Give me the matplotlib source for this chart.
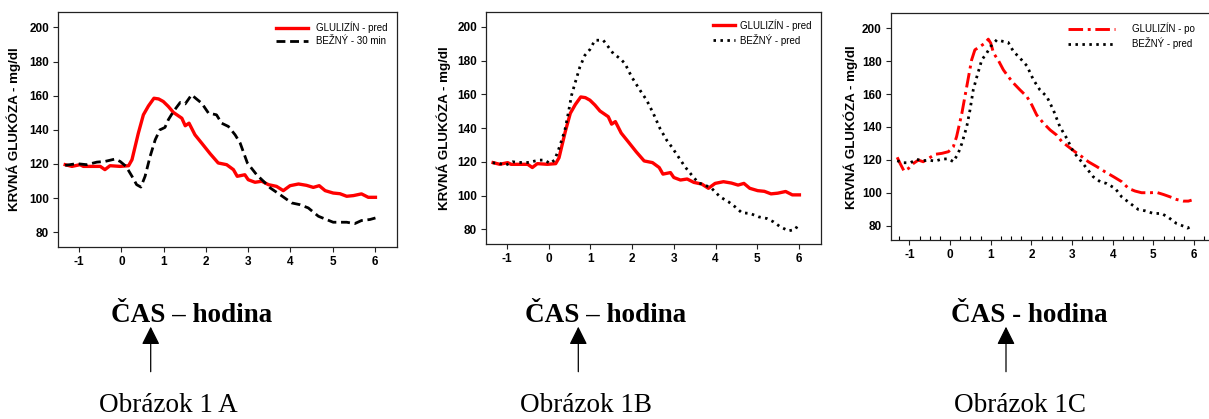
import matplotlib
matplotlib.use("Agg")
import matplotlib.pyplot as plt
from matplotlib.ticker import MultipleLocator

# ---------------------------------------------------------------------------
# Data
# ---------------------------------------------------------------------------

# GLULIZÍN - pred (same curve in panels A and B)
glu_pred_t = [-1.33, -1.17, -0.98, -0.9, -0.5, -0.39, -0.27, -0.03, 0.17, 0.25,
              0.40, 0.52, 0.64, 0.77, 0.88, 0.99, 1.11, 1.23, 1.43, 1.51,
              1.60, 1.74, 1.90, 2.10, 2.29, 2.49, 2.65, 2.74, 2.92, 3.00,
              3.16, 3.32, 3.48, 3.67, 3.83, 3.99, 4.19, 4.38, 4.54, 4.68,
              4.82, 5.01, 5.17, 5.33, 5.49, 5.68, 5.84, 6.01]
glu_pred_v = [119.6, 118.6, 119.6, 118.6, 118.6, 116.7, 119.0, 118.6, 119.0, 122.5,
              138.0, 148.8, 154.0, 158.5, 158.1, 156.6, 153.7, 150.2, 146.8, 142.4,
              143.9, 137.1, 132.2, 126.0, 120.6, 119.6, 116.7, 112.8, 113.7, 110.8,
              109.3, 109.9, 107.9, 106.9, 104.4, 107.3, 108.3, 107.5, 106.3, 107.3,
              104.4, 103.0, 102.6, 101.1, 101.5, 102.5, 100.5, 100.5]

# BEŽNÝ - 30 min (panel A)
bez30_t = [-1.33, -1.06, -0.82, -0.58, -0.39, -0.15, -0.03, 0.11, 0.25, 0.36,
           0.46, 0.56, 0.68, 0.80, 0.91, 1.03, 1.11, 1.23, 1.39, 1.51,
           1.66, 1.78, 1.90, 2.06, 2.25, 2.37, 2.53, 2.69, 2.81, 2.98,
           3.20, 3.36, 3.52, 3.75, 4.03, 4.22, 4.42, 4.66, 4.89, 5.01,
           5.33, 5.52, 5.68, 5.88, 6.01]
bez30_v = [119.2, 120.2, 119.6, 121.1, 121.5, 122.9, 121.5, 118.6, 112.8, 107.9,
           106.5, 112.8, 124.5, 134.2, 140.0, 141.4, 145.9, 150.7, 156.0, 155.2,
           160.5, 158.0, 155.6, 149.8, 148.8, 143.9, 142.0, 137.1, 132.2, 120.6,
           113.7, 109.9, 106.0, 102.1, 97.2, 96.2, 94.3, 89.4, 87.1, 85.9,
           85.9, 85.1, 86.9, 87.5, 88.4]

# BEŽNÝ - pred (panel B)
bezB_t = [-1.34, -1.18, -1.03, -0.86, -0.71, -0.58, -0.46, -0.34, -0.22, -0.10,
          0.04, 0.14, 0.22, 0.30, 0.39, 0.47, 0.55, 0.63, 0.75, 0.87,
          0.99, 1.11, 1.31, 1.43, 1.55, 1.71, 1.83, 1.99, 2.19, 2.35,
          2.51, 2.67, 2.83, 2.95, 3.11, 3.27, 3.43, 3.59, 3.75, 3.91,
          4.11, 4.31, 4.47, 4.63, 4.83, 5.03, 5.23, 5.39, 5.55, 5.75,
          5.91, 5.99]
bezB_v = [119.5, 119.1, 118.1, 120.1, 119.7, 119.7, 119.7, 120.5, 121.1, 121.1,
          119.1, 121.1, 126.0, 131.9, 138.8, 148.7, 159.5, 166.4, 176.3, 183.2,
          186.6, 192.1, 192.1, 188.2, 184.2, 181.3, 178.3, 170.4, 162.5, 156.6,
          148.7, 139.8, 132.9, 128.9, 123.0, 117.1, 112.2, 107.6, 106.3, 104.3,
          99.3, 96.4, 93.4, 89.9, 89.5, 87.5, 86.5, 84.5, 81.6, 79.2,
          80.0, 83.2]

# GLULIZÍN - po (panel C)
glu_po_t = [-1.30, -1.23, -1.13, -1.02, -0.90, -0.78, -0.66, -0.53, -0.37, -0.20,
            -0.04, 0.08, 0.16, 0.29, 0.41, 0.53, 0.61, 0.74, 0.86, 0.94,
            1.00, 1.07, 1.19, 1.31, 1.43, 1.56, 1.72, 1.89, 2.01, 2.13,
            2.30, 2.46, 2.62, 2.75, 2.91, 3.07, 3.24, 3.40, 3.61, 3.81,
            4.02, 4.22, 4.39, 4.55, 4.71, 4.92, 5.08, 5.25, 5.41, 5.57,
            5.74, 5.86, 5.94]
glu_po_v = [121.6, 117.9, 113.2, 114.9, 117.9, 119.9, 118.9, 120.9, 123.4, 124.0,
            125.0, 128.0, 134.1, 148.3, 164.5, 180.7, 186.8, 188.9, 190.9, 193.3,
            190.9, 184.8, 180.3, 174.7, 170.6, 166.6, 162.5, 158.4, 153.4, 147.3,
            142.2, 138.2, 135.1, 131.1, 128.0, 125.0, 122.0, 118.9, 115.9, 112.8,
            109.8, 106.8, 102.7, 101.1, 100.1, 100.1, 100.3, 99.0, 97.6, 96.0,
            95.0, 95.0, 95.6]

# BEŽNÝ - pred (panel C)
bezC_t = [-1.30, -1.15, -0.98, -0.82, -0.66, -0.53, -0.37, -0.20, -0.04, 0.08,
          0.20, 0.29, 0.41, 0.49, 0.57, 0.66, 0.78, 0.90, 1.00, 1.15,
          1.31, 1.43, 1.56, 1.72, 1.89, 2.05, 2.21, 2.38, 2.54, 2.70,
          2.87, 3.03, 3.20, 3.36, 3.52, 3.69, 3.85, 4.06, 4.22, 4.43,
          4.63, 4.80, 5.00, 5.20, 5.37, 5.57, 5.74, 5.84, 5.94]
bezC_v = [119.5, 118.3, 118.3, 120.3, 119.5, 119.9, 119.3, 120.5, 120.7, 118.9,
          124.0, 130.0, 140.2, 150.3, 162.5, 170.6, 180.7, 184.8, 188.9, 192.9,
          191.9, 191.3, 185.8, 181.8, 177.1, 168.6, 162.5, 158.4, 150.3, 140.2,
          133.1, 125.0, 119.9, 114.9, 109.8, 106.8, 105.7, 102.7, 97.6, 93.6,
          89.9, 89.1, 87.5, 87.5, 85.1, 81.4, 79.8, 78.6, 79.8]

x_ticks = [-1, 0, 1, 2, 3, 4, 5, 6]
y_ticks = [80, 100, 120, 140, 160, 180, 200]
y_label = "KRVNÁ GLUKÓZA - mg/dl"
x_titles = ["ČAS – hodina", "ČAS – hodina", "ČAS - hodina"]
captions = ["Obrázok 1 A", "Obrázok 1B", "Obrázok 1C"]

# ---------------------------------------------------------------------------
# Figure
# ---------------------------------------------------------------------------

W, H = 1209, 419
fig = plt.figure(figsize=(W / 100, H / 100), dpi=100)
plt.rcParams["font.family"] = ["Liberation Sans", "DejaVu Sans"]


def px_axes(left, top, right, bottom):
    return fig.add_axes([left / W, 1 - bottom / H, (right - left) / W, (bottom - top) / H])


axA = px_axes(58, 12, 397, 247)
axB = px_axes(486, 11.7, 820.7, 244)
axC = px_axes(890.7, 13.3, 1215.6, 240)

RED = "#ff0000"

axA.plot(glu_pred_t, glu_pred_v, color=RED, lw=2.4, label="GLULIZÍN - pred")
axA.plot(bez30_t, bez30_v, color="black", lw=2.0, linestyle=(0, (3.2, 1.7)),
         label="BEŽNÝ - 30 min")

axB.plot(glu_pred_t, glu_pred_v, color=RED, lw=2.4, label="GLULIZÍN - pred")
axB.plot(bezB_t, bezB_v, color="black", lw=2.0, linestyle=(0, (0.9, 1.6)),
         label="BEŽNÝ - pred")

axC.plot(glu_po_t, glu_po_v, color=RED, lw=2.1, linestyle=(0, (5, 1.6, 1, 1.6)),
         label="GLULIZÍN - po")
axC.plot(bezC_t, bezC_v, color="black", lw=2.0, linestyle=(0, (0.9, 1.6)),
         label="BEŽNÝ - pred")

# label x = right edge of the rotated y label, in axes fraction
ylab_x = {axA: -0.109, axB: -0.105, axC: -0.102}
for ax in (axA, axB, axC):
    ax.set_xlim(-1.5, 6.52)
    ax.set_ylim(71.4, 209)
    ax.set_xticks(x_ticks)
    ax.set_yticks(y_ticks)
    ax.set_xticklabels([str(t) for t in x_ticks], fontweight="bold", fontsize=8.5)
    ax.set_yticklabels([str(t) for t in y_ticks], fontweight="bold", fontsize=8.5)
    ax.tick_params(length=3.5, width=0.8, pad=3, color="#222222")
    ax.set_ylabel(y_label, fontweight="bold", fontsize=9.6)
    ax.yaxis.set_label_coords(ylab_x[ax], 0.5)
    for s in ax.spines.values():
        s.set_linewidth(0.9)
        s.set_color("#222222")

# panel C has small inward minor ticks on the time axis
axC.set_xlim(-1.46, 6.53)
axC.xaxis.set_minor_locator(MultipleLocator(0.25))
axC.tick_params(axis="x", which="minor", direction="in", length=3, width=0.8)

# legends
axA.legend(loc="upper left", bbox_to_anchor=(0.643, 0.958), frameon=False,
           fontsize=7, handlelength=3.3, handletextpad=0.8, labelspacing=0.3,
           borderpad=0, borderaxespad=0)
axB.legend(loc="upper left", bbox_to_anchor=(0.677, 0.968), frameon=False,
           fontsize=7, handlelength=2.3, handletextpad=0.55, labelspacing=0.3,
           borderpad=0, borderaxespad=0)
axC.legend(loc="upper left", bbox_to_anchor=(0.545, 0.958), frameon=False,
           fontsize=7, handlelength=4.9, handletextpad=1.7, labelspacing=0.3,
           borderpad=0, borderaxespad=0)

# bottom captions with arrows
title_x = [191.4, 605.8, 1029.5]
arrow_x = [150.7, 578.3, 1006.0]
caption_x = [168.0, 585.8, 1019.5]
for tx, axx, cx, title, cap in zip(title_x, arrow_x, caption_x, x_titles, captions):
    fig.text(tx / W, 1 - 322 / H, title, ha="center", va="baseline",
             family=["Liberation Serif", "DejaVu Serif"], fontweight="bold", fontsize=19.5)
    fig.text(cx / W, 1 - 412 / H, cap, ha="center", va="baseline",
             family=["Liberation Serif", "DejaVu Serif"], fontsize=19.5)
    fig.add_artist(matplotlib.patches.FancyArrowPatch(
        (axx / W, 1 - 371.7 / H), (axx / W, 1 - 326.7 / H),
        transform=fig.transFigure, arrowstyle="-|>,head_length=1.1,head_width=0.55",
        mutation_scale=10, color="black", lw=0.9, shrinkA=0, shrinkB=0))

fig.savefig("out.png", dpi=100)
